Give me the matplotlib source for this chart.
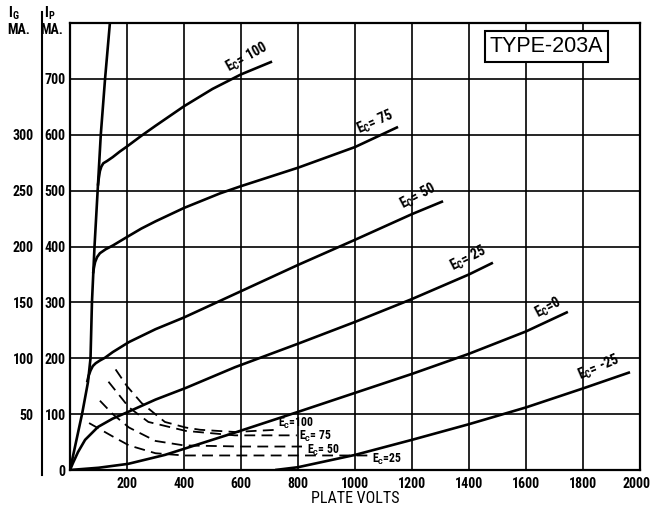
import matplotlib
matplotlib.use("Agg")
import matplotlib.pyplot as plt
from matplotlib.lines import Line2D
from matplotlib.transforms import ScaledTranslation
from matplotlib import font_manager as fm

# ---------------- data ----------------
x_ticks = [0, 200, 400, 600, 800, 1000, 1200, 1400, 1600, 1800, 2000]
x_tick_labels = ["", "200", "400", "600", "800", "1000", "1200", "1400", "1600", "1800", "2000"]
ip_ticks = [0, 100, 200, 300, 400, 500, 600, 700, 800]
ip_tick_labels = ["0", "100", "200", "300", "400", "500", "600", "700", ""]
ig_ticks = [50, 100, 150, 200, 250, 300]

# steep limiting line
lim_v = [0, 43, 63, 72, 77, 86, 97, 108, 123, 140]
lim_ip = [0, 102, 157, 200, 300, 400, 500, 600, 700, 800]

# plate current curves
ec100_v = [98, 101, 105, 110, 117, 130, 150, 175, 200, 250, 300, 400, 500, 600, 709]
ec100_ip = [509, 522, 535, 543, 549, 553, 560, 570, 579, 598, 616, 651, 682, 708, 731]

ec75_v = [81, 84, 88, 95, 105, 125, 151, 200, 250, 300, 400, 526, 600, 800, 1000, 1151]
ec75_ip = [352, 362, 372, 381, 388, 395, 402, 417, 432, 445, 469, 495, 508, 541, 578, 614]

ec50_v = [60, 65, 72, 80, 90, 105, 123, 150, 207, 300, 400, 600, 800, 1000, 1200, 1309]
ec50_ip = [157, 168, 178, 186, 191, 196, 201, 211, 229, 252, 273, 320, 367, 412, 458, 481]

ec25_v = [0, 10, 28, 53, 98, 150, 204, 300, 407, 579, 800, 1000, 1200, 1400, 1484]
ec25_ip = [0, 12, 32, 54, 77, 92, 104, 126, 147, 184, 226, 265, 306, 350, 371]

ec0_v = [0, 100, 204, 333, 407, 579, 800, 1000, 1200, 1400, 1600, 1747]
ec0_ip = [0, 4, 11, 27, 39, 67, 104, 138, 172, 208, 248, 283]

ecm25_v = [720, 800, 1000, 1200, 1400, 1600, 1800, 1965]
ecm25_ip = [0, 5, 27, 54, 82, 112, 146, 175]

# grid current curves (Ig, mA)
ig100_v = [160, 200, 251, 333, 406, 456, 579, 650, 726]
ig100_ig = [90, 75, 60, 43, 38, 36, 34, 35, 36]

ig75_v = [135, 207, 275, 406, 579, 700, 796]
ig75_ig = [79, 56, 43, 35, 31, 31, 31]

ig50_v = [105, 150, 207, 300, 400, 600, 814]
ig50_ig = [62, 50, 38, 26, 22, 21, 21]

ig25_v = [67, 150, 207, 300, 400, 600, 1053]
ig25_ig = [42, 30, 22, 15, 13, 13, 13]

# ---------------- font choice ----------------
_names = {f.name for f in fm.fontManager.ttflist}
_narrow = None
for cand in ['Liberation Sans Narrow', 'Roboto Condensed', 'DejaVu Sans Condensed',
             'Open Sans Condensed']:
    if cand in _names:
        _narrow = cand
        break
stretch = 'normal'
if _narrow is None:
    if any(f.name == 'DejaVu Sans' and f.stretch == 'condensed' for f in fm.fontManager.ttflist):
        _narrow = 'DejaVu Sans'
        stretch = 'condensed'
        scale = 0.92
    else:
        _narrow = 'Liberation Sans'
        scale = 0.86
else:
    scale = 1.0

W, H = 651, 505
plt.rcParams['font.family'] = [_narrow, 'DejaVu Sans']
plt.rcParams['font.weight'] = 'bold'
plt.rcParams['font.stretch'] = stretch
plt.rcParams['mathtext.default'] = 'regular'

fig = plt.figure(figsize=(W / 100, H / 100), dpi=100)
left, right, top, bottom = 70, 640, 23, 470
ax = fig.add_axes([left / W, 1 - bottom / H, (right - left) / W, (bottom - top) / H])
ax.set_xlim(0, 2000)
ax.set_ylim(0, 800)

tsz = 10 * scale
ax.set_xticks(x_ticks)
ax.set_xticklabels(x_tick_labels)
ax.set_yticks(ip_ticks)
ax.set_yticklabels(ip_tick_labels)
ax.tick_params(axis='both', length=0, labelsize=tsz)
ax.tick_params(axis='x', pad=5)
ax.tick_params(axis='y', pad=3)
ax.grid(True, color='black', linewidth=1.2)
for s in ax.spines.values():
    s.set_linewidth(1.6)

# nudge the last x label a little left so it stays inside the picture
_last = ax.xaxis.get_major_ticks()[-1].label1
_last.set_transform(_last.get_transform() + ScaledTranslation(-4 / 100, 0, fig.dpi_scale_trans))

lw = 1.9
ax.plot(lim_v, lim_ip, color='black', lw=lw)
for v, ip in [(ec100_v, ec100_ip), (ec75_v, ec75_ip), (ec50_v, ec50_ip),
              (ec25_v, ec25_ip), (ec0_v, ec0_ip), (ecm25_v, ecm25_ip)]:
    ax.plot(v, ip, color='black', lw=lw, solid_capstyle='butt')

for v, ig in [(ig100_v, ig100_ig), (ig75_v, ig75_ig), (ig50_v, ig50_ig), (ig25_v, ig25_ig)]:
    ax.plot(v, [g * 2 for g in ig], color='black', lw=1.3, dashes=(6, 3.5))

# curve labels
lab = dict(fontsize=10 * scale, ha='center', va='center', rotation_mode='anchor')
ax.text(621, 738, '$E_C$= 100', rotation=29, **lab)
ax.text(1070, 623, '$E_C$= 75', rotation=24, **lab)
ax.text(1221, 489, '$E_C$= 50', rotation=28, **lab)
ax.text(1396, 379, '$E_C$= 25', rotation=27, **lab)
ax.text(1677, 291, '$E_C$=0', rotation=28, **lab)
ax.text(1856, 183, '$E_C$= -25', rotation=23, **lab)

dl = dict(fontsize=8.5 * scale, ha='left', va='center')
ax.text(730, 84, '$E_C$=100', **dl)
ax.text(805, 60, '$E_C$= 75', **dl)
ax.text(830, 35, '$E_C$= 50', **dl)
ax.text(1060, 18, '$E_C$=25', **dl)

ax.text(0.836, 0.947, 'TYPE-203A', transform=ax.transAxes, fontsize=15.5,
        fontweight='normal', fontstretch='normal', family=['Liberation Sans', 'DejaVu Sans'],
        ha='center', va='center',
        bbox=dict(boxstyle='square,pad=0.22', facecolor='white', edgecolor='black', lw=1.5))

ax.set_xlabel('PLATE VOLTS', fontsize=11.5 * scale, labelpad=0)

# grid-current axis (Ig = Ip / 2)
sec = ax.secondary_yaxis((42 - left) / (right - left), functions=(lambda y: y / 2, lambda y: y * 2))
sec.set_yticks(ig_ticks)
sec.tick_params(length=0, labelsize=tsz, pad=6)
sec.spines['left'].set_visible(False)
fig.add_artist(Line2D([42 / W, 42 / W], [1 - 12 / H, 1 - 475 / H], transform=fig.transFigure,
                      color='black', lw=1.5))

# headers
fig.text(14 / W, 1 - 13 / H, '$I_G$', fontsize=10.5 * scale, ha='center', va='center')
fig.text(19 / W, 1 - 30 / H, 'MA.', fontsize=10 * scale, ha='center', va='center')
fig.text(50 / W, 1 - 13 / H, '$I_P$', fontsize=10.5 * scale, ha='center', va='center')
fig.text(52 / W, 1 - 30 / H, 'MA.', fontsize=10 * scale, ha='center', va='center')

fig.savefig('out.png', dpi=100, facecolor='white')
